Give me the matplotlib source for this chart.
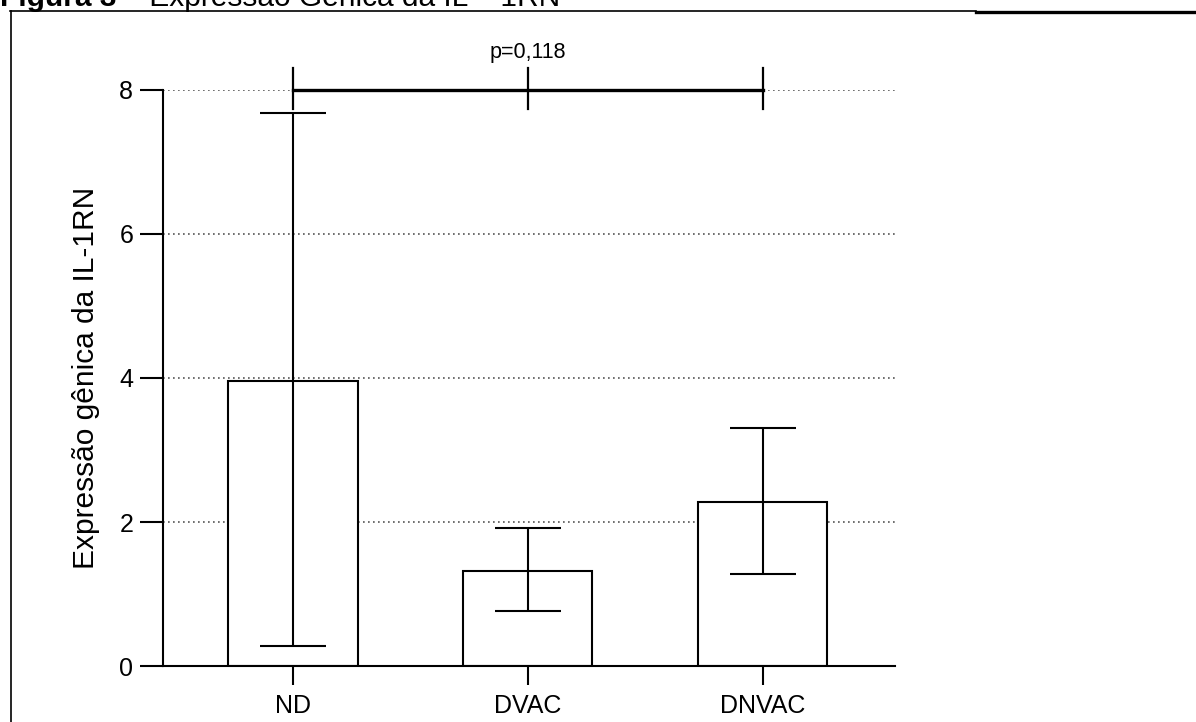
import matplotlib
matplotlib.use('Agg')
import matplotlib.pyplot as plt
from matplotlib.lines import Line2D

plt.rcParams['font.family'] = ['Liberation Sans', 'DejaVu Sans']

# dados
grupos = ['ND', 'DVAC', 'DNVAC']
media = [3.96, 1.32, 2.28]
erro_inf = [3.68, 0.56, 1.00]
erro_sup = [3.72, 0.59, 1.03]
yticks = [0, 2, 4, 6, 8]
p_valor = 'p=0,118'
titulo_neg = 'Figura 3'
titulo = ' \u2013 Expressão Gênica da IL \u2013 1RN'
ylabel = 'Expressão gênica da IL-1RN'

W, H = 1196, 722
fig = plt.figure(figsize=(W / 100, H / 100), dpi=100)
ax = fig.add_axes([163 / W, 56 / H, 732 / W, 576 / H])

x = list(range(len(grupos)))

# barras brancas com borda preta
ax.bar(x, media, width=0.55, color='white', edgecolor='black', linewidth=1.5, zorder=2)
ax.errorbar(x, media, yerr=[erro_inf, erro_sup], fmt='none', ecolor='black',
            elinewidth=1.5, capsize=24, capthick=1.5, zorder=3)

ax.set_xlim(-0.554, 2.564)
ax.set_ylim(0, 8)
ax.set_xticks(x)
ax.set_xticklabels(grupos, fontsize=18)
ax.set_yticks(yticks)
ax.set_yticklabels([str(v) for v in yticks], fontsize=18)
ax.tick_params(axis='y', length=16.5, width=1.5, pad=5)
ax.tick_params(axis='x', length=13.5, width=1.5, pad=7)

for s in ['top', 'right']:
    ax.spines[s].set_visible(False)
for s in ['left', 'bottom']:
    ax.spines[s].set_linewidth(1.5)

# grade pontilhada
ax.yaxis.grid(True, linestyle=(0, (1, 2)), color='#555555', linewidth=1.2)
ax.set_axisbelow(True)

ax.set_ylabel(ylabel, fontsize=21.5)
ax.yaxis.set_label_coords(-0.086, 0.5)

# barra de significancia
ax.plot([x[0], x[-1]], [8, 8], color='black', linewidth=2.4, clip_on=False, zorder=4)
for xi in x:
    ax.plot([xi, xi], [7.73, 8.3], color='black', linewidth=1.6, clip_on=False, zorder=4)
ax.text(x[1], 8.37, p_valor, ha='center', va='bottom', fontsize=15.5)

# titulo cortado no topo
t = fig.text(0, 1 - 6 / H, titulo_neg, fontsize=21.5, fontweight='bold', va='baseline', ha='left')
fig.canvas.draw()
bb = t.get_window_extent()
fig.text(bb.x1 / W, 1 - 6 / H, titulo, fontsize=21.5, va='baseline', ha='left')

# moldura
fig.add_artist(Line2D([10.5 / W, 10.5 / W], [0, 1 - 11 / H], color='black', linewidth=1.2,
                      transform=fig.transFigure))
fig.add_artist(Line2D([10 / W, 976 / W], [1 - 11 / H, 1 - 11 / H], color='black', linewidth=1.2,
                      transform=fig.transFigure))
fig.add_artist(Line2D([976 / W, 1], [1 - 11.5 / H, 1 - 11.5 / H], color='black', linewidth=2.4,
                      transform=fig.transFigure))

fig.savefig('out.png', dpi=100)
